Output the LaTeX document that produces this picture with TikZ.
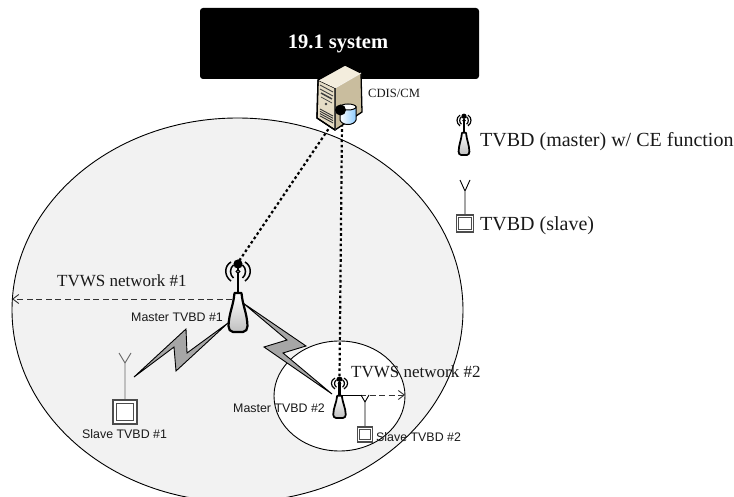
\documentclass[tikz,border=0pt]{standalone}
\usepackage{fontspec}
\setmainfont{Liberation Serif}
\newfontfamily\lsans{Liberation Sans}
\usetikzlibrary{arrows.meta,shadings}
\definecolor{netgrey}{HTML}{F2F2F2}
\definecolor{boltgrey}{HTML}{A6A6A6}
\definecolor{srvfront}{HTML}{E6DDC6}
\definecolor{srvtop}{HTML}{F3EDDD}
\definecolor{srvside}{HTML}{C9BD9E}
\tikzset{
  net/.style={draw=black,line width=.9pt},
  bolt/.style={draw=black,fill=boltgrey,line width=.9pt,line join=miter},
  reach/.style={draw=black!80,line width=.9pt,dash pattern=on 6pt off 3.5pt,-{Straight Barb[length=6pt,width=9pt]}},
  link/.style={draw=black,line width=2.2pt,dash pattern=on 2.6pt off 2.6pt},
  serif/.style={inner sep=0pt,anchor=base west,text=black!90},
  sans/.style={inner sep=0pt,anchor=base west,font=\lsans\fontsize{12.4pt}{14pt}\selectfont,text=black!90},
  pics/master/.style={code={
    \draw[line width=#1*2.6pt] (0,-38) -- (0,-64);
    \draw[line width=#1*1.5pt] (-7,-70) .. controls (-14,-66) and (-14,-56) .. (-7,-51);
    \draw[line width=#1*1.5pt] (7,-70) .. controls (14,-66) and (14,-56) .. (7,-51);
    \draw[line width=#1*1.5pt] (-4.5,-67) .. controls (-8.5,-64) and (-8.5,-57) .. (-4.5,-54);
    \draw[line width=#1*1.5pt] (4.5,-67) .. controls (8.5,-64) and (8.5,-57) .. (4.5,-54);
    \fill (0,-68) circle (4.6);
    \draw[line width=#1*1.3pt,fill=white] (0,-60.5) circle (1.8);
    \draw[line width=#1*2.2pt,line join=round,top color=white,bottom color=black!25]
      (-3.5,-39) -- (3.5,-39) to[out=-85,in=92] (9.5,-6)
      to[out=-90,in=0] (5,0) -- (-5,0) to[out=180,in=-90] (-9.5,-6) to[out=88,in=-95] (-3.5,-39) -- cycle;
  }},
  pics/slavebox/.style={code={
    \draw[line width=1.1pt,draw=black!70,fill=white] (-#1,0) rectangle (#1,2*#1);
    \draw[line width=1.1pt,draw=black!70] ({-#1*.72},{2*#1*.14}) rectangle ({#1*.72},{2*#1*.86});
  }},
}
\begin{document}
\begin{tikzpicture}[x=1pt,y=-1pt]
\useasboundingbox (0,0) rectangle (734,497);
% coverage areas
\coordinate (bigc) at (237.5,310);
\begin{scope}
  \clip (0,0) rectangle (734,497);
  \draw[net,fill=netgrey] (bigc) ellipse [x radius=225.5pt,y radius=192pt];
\end{scope}
\coordinate (smallc) at (339.5,396);
\draw[net,fill=white] (smallc) ellipse [x radius=65.5pt,y radius=55pt];
% system box
\node[fill=black,rounded corners=3pt,minimum width=279pt,minimum height=71pt,inner sep=0pt,
      font=\bfseries\fontsize{20.5pt}{24pt}\selectfont,text=white] (sys) at (339.5,43.5) {\hspace*{-3pt}19.1 system};
% lightning links
\coordinate (m1) at (238,332);
\coordinate (m2) at (339.5,418);
\coordinate (m1dot) at (237,264);
\coordinate (m2dot) at (339.5,378);
\coordinate (srvL) at (340,112);
\coordinate (srvB) at (342,124);
\draw[bolt] (134,377) -- (186,329) -- (187,353) -- (228,323) -- (176,371) -- (174,347) -- cycle;
\draw[bolt] (243,303) -- (306,346) -- (283,353) -- (332,394) -- (264,347) -- (287,340) -- cycle;
% dotted backhaul
\draw[link] (srvL) -- (m1dot);
\draw[link] (srvB) -- (m2dot);
% server
\draw[line width=1.3pt,line join=round,fill=srvfront] (318,80) -- (335,88) -- (335,130) -- (317,118) -- cycle;
\fill[srvtop] (318,80) -- (345,65) -- (361,73) -- (335,88) -- cycle;
\fill[srvside] (335,88) -- (361,73) -- (362,112) -- (335,130) -- cycle;
\draw[line width=1.3pt,line join=round] (318,80) -- (345,65) -- (361,73) -- (362,112) -- (335,130) -- (317,118) -- cycle;
\draw[line width=.9pt,draw=white!60!srvfront] (335,88) -- (361,73);
\draw[line width=.7pt,draw=black!80] (335,88) -- (335,130);
\draw[line width=.9pt,draw=black!75] (320,85) -- (333,92) (320,89) -- (333,96);
\draw[line width=1.5pt,draw=black!75] (321,93) -- (332,99);
\draw[line width=.7pt,draw=black!75] (321,97) -- (332,103);
\fill[black!75] (326,104) circle (1.3);
\foreach \d in {0,2.3,4.6,6.9}
  \draw[line width=.9pt,draw=black!80] (320,{109+\d}) -- (333,{116+\d});
% storage cylinder
\draw[line width=1pt,left color=white,right color=blue!45!cyan!45] (340,107) -- (340,120)
   .. controls (342,126) and (354,126) .. (356,120) -- (356,107) -- cycle;
\draw[line width=1pt,fill=white] (348,107) ellipse [x radius=8pt,y radius=3pt];
\node[circle,fill=black,minimum size=11pt,inner sep=0pt] (blob) at (340.5,110) {};
% masters
\pic at (m1) {master=1};
\pic[xscale=.66,yscale=.57] at (m2) {master=.8};
\pic[scale=.57] (legm) at (464,155) {master=.8};
% slaves
\coordinate (s1top) at (125,363);
\draw[line width=.9pt,draw=black!60] (s1top) -- (125,400) (s1top) -- (119,353) (s1top) -- (131,353);
\pic at (125,400) {slavebox=12};
\coordinate (s2top) at (365,402);
\draw[line width=.9pt] (s2top) -- (365,427) (s2top) -- (361,395) (s2top) -- (369,395);
\pic at (365,427) {slavebox=7.5};
\coordinate (s3top) at (465,191);
\draw[line width=.9pt] (s3top) -- (465,215) (s3top) -- (460,180) (s3top) -- (470,180);
\pic at (465,215) {slavebox=8.5};
% coverage radii
\coordinate (r1) at (12,299);
\coordinate (r2) at (405,395);
\coordinate (m1s) at (232,299);
\coordinate (m2s) at (341,395);
\coordinate (m2j) at (362,395);
\draw[reach] (m1s) -- (r1);
\draw[reach] (m2s) -- (r2);
\draw[line width=.9pt] (m2s) -- (m2j);
% labels
\node[serif,font=\fontsize{12.6pt}{15pt}\selectfont] (lcdis) at (368,98) {CDIS/CM};
\node[serif,font=\fontsize{20pt}{24pt}\selectfont] (lmaster) at (480,147) {TVBD (master) w/ CE function};
\node[serif,font=\fontsize{20pt}{24pt}\selectfont] (lslave) at (480,231) {TVBD (slave)};
\node[serif,font=\fontsize{17pt}{20pt}\selectfont] (ln1) at (57,287) {TVWS network \#1};
\node[serif,font=\fontsize{17pt}{20pt}\selectfont] (ln2) at (351,377) {TVWS network \#2};
\node[sans] (lm1) at (131,321) {Master TVBD \#1};
\node[sans] (lm2) at (233,412) {Master TVBD \#2};
\node[sans] (ls1) at (82,438) {Slave TVBD \#1};
\node[sans] (ls2) at (376,441) {Slave TVBD \#2};
\end{tikzpicture}
\end{document}
